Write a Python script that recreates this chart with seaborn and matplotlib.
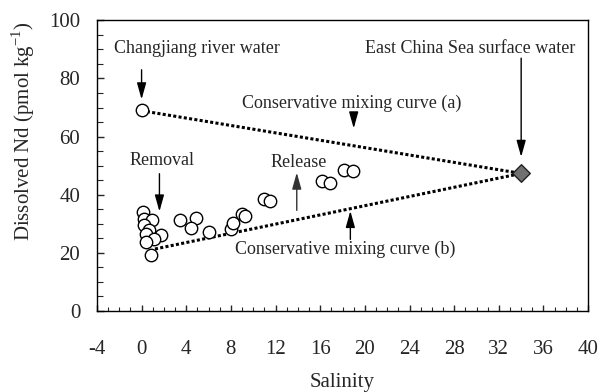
import matplotlib
matplotlib.use("Agg")
import matplotlib.pyplot as plt
import pandas as pd
import seaborn as sns
from matplotlib.ticker import MultipleLocator

# Estuarine samples: salinity vs dissolved Nd (pmol/kg)
salinity = [0.1, 0.2, 0.9, 0.2, 0.7, 0.4, 1.7, 1.1, 0.4, 0.8,
            3.4, 4.9, 4.4, 6.0, 8.0, 8.2, 9.0, 9.3,
            11.0, 11.5, 16.2, 16.9, 18.1, 18.9]
nd = [33.9, 31.6, 31.3, 29.5, 27.9, 26.4, 26.2, 24.7, 23.6, 19.3,
      31.3, 31.8, 28.6, 27.3, 28.1, 30.4, 33.4, 32.5,
      38.6, 37.7, 44.7, 44.1, 48.6, 48.0]

# End-members
river_sal, river_nd = [0.0], [69.3]
sea_sal, sea_nd = [34.0], [47.3]

# Conservative mixing lines
curve_a_sal, curve_a_nd = [0.0, 34.0], [68.9, 47.3]
curve_b_sal, curve_b_nd = [1.2, 34.0], [21.3, 47.3]

x_ticks = [-4, 0, 4, 8, 12, 16, 20, 24, 28, 32, 36, 40]
y_ticks = [0, 20, 40, 60, 80, 100]

sns.set_theme(style="ticks")
plt.rcParams["font.family"] = ["Liberation Serif", "DejaVu Serif"]
plt.rcParams["mathtext.fontset"] = "custom"
plt.rcParams["mathtext.rm"] = "Liberation Serif"
plt.rcParams["axes.unicode_minus"] = False

fig = plt.figure(figsize=(6.02, 3.92), dpi=100)
ax = fig.add_axes([0.161, 0.207, 0.816, 0.741])

samples = pd.DataFrame({"Salinity": salinity, "Nd": nd})
dots = dict(linestyle=(0, (1, 0.75)), linewidth=2.2, color="black",
            dash_capstyle="butt")
sns.lineplot(x=curve_a_sal, y=curve_a_nd, ax=ax, **dots)
sns.lineplot(x=curve_b_sal, y=curve_b_nd, ax=ax, **dots)

sns.scatterplot(data=samples, x="Salinity", y="Nd", ax=ax, s=80,
                facecolor="white", edgecolor="black", linewidth=1.0, zorder=3)
sns.scatterplot(x=river_sal, y=river_nd, ax=ax, s=80, facecolor="white",
                edgecolor="black", linewidth=1.0, zorder=3)
sns.scatterplot(x=sea_sal, y=sea_nd, ax=ax, s=80, marker="D",
                facecolor="#707070", edgecolor="#222222", linewidth=1.0, zorder=4)

ax.set_xlim(-4, 40)
ax.set_ylim(0, 100)
ax.set_xticks(x_ticks)
ax.set_yticks(y_ticks)
ax.xaxis.set_minor_locator(MultipleLocator(1))
ax.yaxis.set_minor_locator(MultipleLocator(5))
ax.tick_params(axis="x", which="major", direction="in", length=4, width=1,
               pad=21, labelsize=15)
ax.tick_params(axis="x", which="minor", direction="in", length=3, width=0.8)
ax.tick_params(axis="y", which="major", direction="in", length=5, width=1,
               pad=12, labelsize=15)
ax.tick_params(axis="y", which="minor", direction="in", length=4, width=0.8)
for sp in ax.spines.values():
    sp.set_visible(True)
    sp.set_color("black")
    sp.set_linewidth(1.0)

ax.set_xlabel("Salinity", fontsize=15, labelpad=10)
ax.set_ylabel(r"Dissolved Nd (pmol kg$^{-1}$)", fontsize=15)
ax.yaxis.set_label_coords(-0.122, 0.62)

arrow = dict(arrowstyle="-|>,head_length=1.0,head_width=0.28", color="black",
             lw=1.0, shrinkA=0, shrinkB=0, mutation_scale=10)
fs = 13

ax.text(5.0, 90.2, "Changjiang river water", ha="center", va="center", fontsize=fs)
ax.annotate("", xy=(0.0, 72.8), xytext=(0.0, 83.0), arrowprops=arrow)

ax.text(29.4, 90.2, "East China Sea surface water", ha="center", va="center", fontsize=fs)
ax.annotate("", xy=(34.0, 53.0), xytext=(34.0, 87.0), arrowprops=arrow)

ax.text(18.8, 71.6, "Conservative mixing curve (a)", ha="center", va="center", fontsize=fs)
ax.annotate("", xy=(19.0, 62.8), xytext=(19.0, 68.3), arrowprops=arrow)

ax.text(1.8, 51.8, "Removal", ha="center", va="center", fontsize=fs)
ax.annotate("", xy=(1.6, 34.2), xytext=(1.6, 47.2), arrowprops=arrow)

ax.text(14.1, 51.2, "Release", ha="center", va="center", fontsize=fs)
ax.annotate("", xy=(13.9, 47.6), xytext=(13.9, 34.6),
            arrowprops=dict(arrow, color="#333333"))

ax.text(18.2, 21.3, "Conservative mixing curve (b)", ha="center", va="center", fontsize=fs)
ax.annotate("", xy=(18.7, 34.4), xytext=(18.7, 24.6), arrowprops=arrow)

fig.savefig("out.png", dpi=100)
